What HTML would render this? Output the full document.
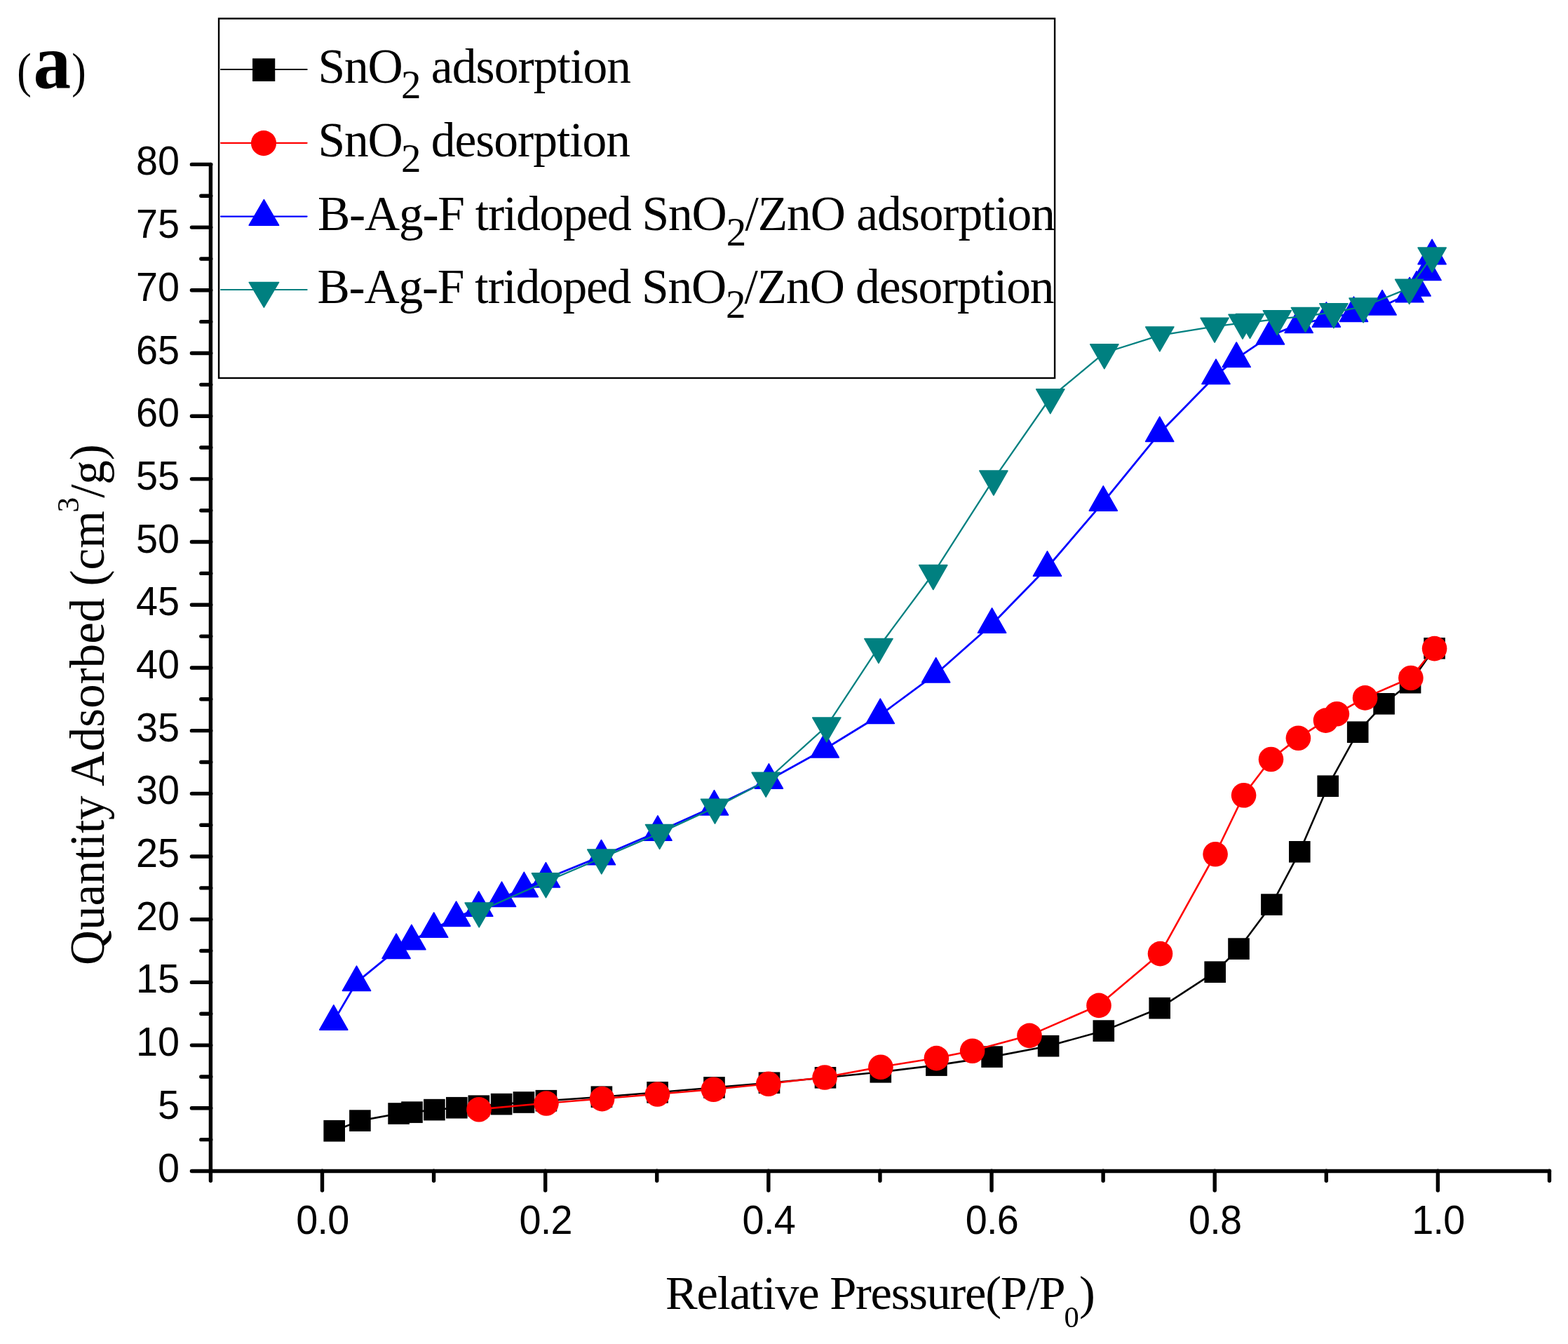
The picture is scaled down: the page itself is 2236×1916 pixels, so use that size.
<!DOCTYPE html>
<html lang="en"><head><meta charset="utf-8"><title>N2 adsorption-desorption isotherms</title>
<style>
html,body{margin:0;padding:0;background:#fff;}
body{width:2236px;height:1916px;overflow:hidden;}
svg{display:block;}
.ar{font-family:"Liberation Sans",Arial,Helvetica,sans-serif;fill:#000;}
.tm{font-family:"Liberation Serif","Times New Roman",Times,serif;fill:#000;}
.ax{stroke:#000;stroke-width:5.4;stroke-linecap:round;fill:none;}
.ln{fill:none;stroke-width:2.2;stroke-linejoin:round;stroke-linecap:round;}
</style></head><body>
<svg width="2236" height="1916" viewBox="0 0 2236 1916">
<rect width="2236" height="1916" fill="#fff"/>
<g class="ax">
<path d="M300.4 234.4V1669.5H2209.5"/>
<path d="M273.4 1669.5H300.8M286.8 1624.653H300.8M273.4 1579.806H300.8M286.8 1534.959H300.8M273.4 1490.112H300.8M286.8 1445.266H300.8M273.4 1400.419H300.8M286.8 1355.572H300.8M273.4 1310.725H300.8M286.8 1265.878H300.8M273.4 1221.031H300.8M286.8 1176.184H300.8M273.4 1131.338H300.8M286.8 1086.491H300.8M273.4 1041.644H300.8M286.8 996.797H300.8M273.4 951.95H300.8M286.8 907.103H300.8M273.4 862.256H300.8M286.8 817.409H300.8M273.4 772.562H300.8M286.8 727.716H300.8M273.4 682.869H300.8M286.8 638.022H300.8M273.4 593.175H300.8M286.8 548.328H300.8M273.4 503.481H300.8M286.8 458.634H300.8M273.4 413.787H300.8M286.8 368.941H300.8M273.4 324.094H300.8M286.8 279.247H300.8M273.4 234.4H300.8M300.41 1669.1V1683.3M459.5 1669.1V1697.1M618.59 1669.1V1683.3M777.68 1669.1V1697.1M936.77 1669.1V1683.3M1095.86 1669.1V1697.1M1254.95 1669.1V1683.3M1414.04 1669.1V1697.1M1573.13 1669.1V1683.3M1732.22 1669.1V1697.1M1891.31 1669.1V1683.3M2050.4 1669.1V1697.1M2209.49 1669.1V1683.3"/>
</g>
<g class="ar" text-anchor="end" font-size="55.8">
<text transform="translate(256 1684.55) scale(1 1.035)">0</text>
<text transform="translate(256 1594.856) scale(1 1.035)">5</text>
<text transform="translate(256 1505.162) scale(1 1.035)">10</text>
<text transform="translate(256 1415.469) scale(1 1.035)">15</text>
<text transform="translate(256 1325.775) scale(1 1.035)">20</text>
<text transform="translate(256 1236.081) scale(1 1.035)">25</text>
<text transform="translate(256 1146.388) scale(1 1.035)">30</text>
<text transform="translate(256 1056.694) scale(1 1.035)">35</text>
<text transform="translate(256 967) scale(1 1.035)">40</text>
<text transform="translate(256 877.306) scale(1 1.035)">45</text>
<text transform="translate(256 787.612) scale(1 1.035)">50</text>
<text transform="translate(256 697.919) scale(1 1.035)">55</text>
<text transform="translate(256 608.225) scale(1 1.035)">60</text>
<text transform="translate(256 518.531) scale(1 1.035)">65</text>
<text transform="translate(256 428.837) scale(1 1.035)">70</text>
<text transform="translate(256 339.144) scale(1 1.035)">75</text>
<text transform="translate(256 249.45) scale(1 1.035)">80</text>
</g>
<g class="ar" text-anchor="middle" font-size="55.8" letter-spacing="-0.75">
<text transform="translate(459.9 1759.1) scale(1 1.035)">0.0</text>
<text transform="translate(778.08 1759.1) scale(1 1.035)">0.2</text>
<text transform="translate(1096.26 1759.1) scale(1 1.035)">0.4</text>
<text transform="translate(1414.44 1759.1) scale(1 1.035)">0.6</text>
<text transform="translate(1732.62 1759.1) scale(1 1.035)">0.8</text>
<text transform="translate(2050.8 1759.1) scale(1 1.035)">1.0</text>
</g>
<text class="tm" y="1866" font-size="68.5" letter-spacing="-1.25"><tspan x="949.1">Relative </tspan><tspan x="1183.2">Pressure(P/P</tspan><tspan x="1517.5" dy="26" font-size="42.5" letter-spacing="0">0</tspan><tspan x="1539" dy="-26">)</tspan></text>
<text class="tm" transform="translate(148.3 1374) rotate(-90)" x="-1.9" y="0" font-size="69">Quantity Adsorbed (cm<tspan x="643.6" dy="-36.5" font-size="43.3">3</tspan><tspan x="664.2" dy="36.5">/g)</tspan></text>
<g class="tm"><text transform="translate(24.3 124.2) scale(0.88 1.01)" font-size="70">(</text><text transform="translate(47.5 124.7) scale(0.984 1.015)" font-size="109" font-weight="bold">a</text><text transform="translate(102.2 124.2) scale(0.88 1.01)" font-size="70">)</text></g>
<g>
<polyline class="ln" stroke="#000" style="stroke-width:2.6" points="476.7,1612.2 513.4,1597.6 568.6,1587.5 587.5,1585.6 619.4,1582.1 651.3,1579.2 682.8,1576.7 715.1,1574.1 746.9,1571.5 778.9,1569.2 857.9,1563.7 937.6,1557.3 1018.5,1550.4 1097,1543.7 1177,1536.3 1255.8,1528.3 1335.4,1518.6 1414.6,1506.6 1495.1,1491.2 1573.8,1469.6 1653.7,1437.2 1732.7,1385.7 1766.5,1352.6 1813.4,1289.6 1853.3,1214.3 1893.7,1120.7 1936.2,1043.7 1973.6,1003.3 2011.1,973.2 2045.6,924.3"/>
<g fill="#000">
<rect x="461.4" y="1596.9" width="30.6" height="30.6"/>
<rect x="498.1" y="1582.3" width="30.6" height="30.6"/>
<rect x="553.3" y="1572.2" width="30.6" height="30.6"/>
<rect x="572.2" y="1570.3" width="30.6" height="30.6"/>
<rect x="604.1" y="1566.8" width="30.6" height="30.6"/>
<rect x="636" y="1563.9" width="30.6" height="30.6"/>
<rect x="667.5" y="1561.4" width="30.6" height="30.6"/>
<rect x="699.8" y="1558.8" width="30.6" height="30.6"/>
<rect x="731.6" y="1556.2" width="30.6" height="30.6"/>
<rect x="763.6" y="1553.9" width="30.6" height="30.6"/>
<rect x="842.6" y="1548.4" width="30.6" height="30.6"/>
<rect x="922.3" y="1542" width="30.6" height="30.6"/>
<rect x="1003.2" y="1535.1" width="30.6" height="30.6"/>
<rect x="1081.7" y="1528.4" width="30.6" height="30.6"/>
<rect x="1161.7" y="1521" width="30.6" height="30.6"/>
<rect x="1240.5" y="1513" width="30.6" height="30.6"/>
<rect x="1320.1" y="1503.3" width="30.6" height="30.6"/>
<rect x="1399.3" y="1491.3" width="30.6" height="30.6"/>
<rect x="1479.8" y="1475.9" width="30.6" height="30.6"/>
<rect x="1558.5" y="1454.3" width="30.6" height="30.6"/>
<rect x="1638.4" y="1421.9" width="30.6" height="30.6"/>
<rect x="1717.4" y="1370.4" width="30.6" height="30.6"/>
<rect x="1751.2" y="1337.3" width="30.6" height="30.6"/>
<rect x="1798.1" y="1274.3" width="30.6" height="30.6"/>
<rect x="1838" y="1199" width="30.6" height="30.6"/>
<rect x="1878.4" y="1105.4" width="30.6" height="30.6"/>
<rect x="1920.9" y="1028.4" width="30.6" height="30.6"/>
<rect x="1958.3" y="988" width="30.6" height="30.6"/>
<rect x="1995.8" y="957.9" width="30.6" height="30.6"/>
<rect x="2030.3" y="909" width="30.6" height="30.6"/>
</g></g>
<g>
<polyline class="ln" stroke="#f00" style="stroke-width:2.6" points="683,1581.4 779,1572.7 858.6,1566.3 937.5,1559.7 1017.5,1553 1095.8,1545 1176.1,1535.7 1255.9,1521 1335.4,1508.3 1386.6,1497.9 1468,1476.1 1567,1433.1 1654.5,1359.3 1733.1,1217.5 1773.6,1133.5 1812.5,1082.2 1851.4,1051.9 1890.5,1026.8 1906.4,1017.4 1946.6,994.6 2011.9,966.2 2045.6,924.3"/>
<g fill="#f00">
<circle cx="683" cy="1581.7" r="17.8"/>
<circle cx="779" cy="1573" r="17.8"/>
<circle cx="858.6" cy="1566.6" r="17.8"/>
<circle cx="937.5" cy="1560" r="17.8"/>
<circle cx="1017.5" cy="1553.3" r="17.8"/>
<circle cx="1095.8" cy="1545.3" r="17.8"/>
<circle cx="1176.1" cy="1536" r="17.8"/>
<circle cx="1255.9" cy="1521.3" r="17.8"/>
<circle cx="1335.4" cy="1508.6" r="17.8"/>
<circle cx="1386.6" cy="1498.2" r="17.8"/>
<circle cx="1468" cy="1476.4" r="17.8"/>
<circle cx="1567" cy="1433.4" r="17.8"/>
<circle cx="1654.5" cy="1359.6" r="17.8"/>
<circle cx="1733.1" cy="1217.8" r="17.8"/>
<circle cx="1773.6" cy="1133.8" r="17.8"/>
<circle cx="1812.5" cy="1082.5" r="17.8"/>
<circle cx="1851.4" cy="1052.2" r="17.8"/>
<circle cx="1890.5" cy="1027.1" r="17.8"/>
<circle cx="1906.4" cy="1017.7" r="17.8"/>
<circle cx="1946.6" cy="994.9" r="17.8"/>
<circle cx="2011.9" cy="966.5" r="17.8"/>
<circle cx="2045.6" cy="924.6" r="17.8"/>
</g></g>
<g>
<polyline class="ln" stroke="#00f" style="stroke-width:2.8" points="475.8,1455.9 508.5,1400.3 565.1,1354.2 586.9,1341.5 618.7,1324.1 650.6,1308.2 682.7,1294 715.5,1280.3 747.3,1266.4 778.4,1252.8 857.5,1220.6 937.95,1186 1018.5,1149.8 1096.4,1111.9 1176.3,1067.7 1255.3,1019.2 1334.7,960.7 1414.6,890.05 1493.5,809 1573.3,715.9 1653.7,617.3 1734,535.2 1763.2,511.1 1811.5,478.65 1852.2,462.25 1891.4,453.95 1930.5,446.25 1971.1,436.8 2010.1,418.6 2020.1,409.8 2035.1,387.35 2042.1,364.4"/>
<g fill="#00f" stroke="#00f" stroke-width="1.6" stroke-linejoin="round">
<polygon points="475.8,1432.8 495.85,1468.1 455.75,1468.1"/>
<polygon points="508.5,1377.2 528.55,1412.5 488.45,1412.5"/>
<polygon points="565.1,1331.1 585.15,1366.4 545.05,1366.4"/>
<polygon points="586.9,1318.4 606.95,1353.7 566.85,1353.7"/>
<polygon points="618.7,1301 638.75,1336.3 598.65,1336.3"/>
<polygon points="650.6,1285.1 670.65,1320.4 630.55,1320.4"/>
<polygon points="682.7,1270.9 702.75,1306.2 662.65,1306.2"/>
<polygon points="715.5,1257.2 735.55,1292.5 695.45,1292.5"/>
<polygon points="747.3,1243.3 767.35,1278.6 727.25,1278.6"/>
<polygon points="778.4,1229.7 798.45,1265 758.35,1265"/>
<polygon points="857.5,1197.5 877.55,1232.8 837.45,1232.8"/>
<polygon points="937.95,1162.9 958,1198.2 917.9,1198.2"/>
<polygon points="1018.5,1126.7 1038.55,1162 998.45,1162"/>
<polygon points="1096.4,1088.8 1116.45,1124.1 1076.35,1124.1"/>
<polygon points="1176.3,1044.6 1196.35,1079.9 1156.25,1079.9"/>
<polygon points="1255.3,996.1 1275.35,1031.4 1235.25,1031.4"/>
<polygon points="1334.7,937.6 1354.75,972.9 1314.65,972.9"/>
<polygon points="1414.6,866.95 1434.65,902.25 1394.55,902.25"/>
<polygon points="1493.5,785.9 1513.55,821.2 1473.45,821.2"/>
<polygon points="1573.3,692.8 1593.35,728.1 1553.25,728.1"/>
<polygon points="1653.7,594.2 1673.75,629.5 1633.65,629.5"/>
<polygon points="1734,512.1 1754.05,547.4 1713.95,547.4"/>
<polygon points="1763.2,488 1783.25,523.3 1743.15,523.3"/>
<polygon points="1811.5,455.55 1831.55,490.85 1791.45,490.85"/>
<polygon points="1852.2,439.15 1872.25,474.45 1832.15,474.45"/>
<polygon points="1891.4,430.85 1911.45,466.15 1871.35,466.15"/>
<polygon points="1930.5,423.15 1950.55,458.45 1910.45,458.45"/>
<polygon points="1971.1,413.7 1991.15,449 1951.05,449"/>
<polygon points="2010.1,395.5 2030.15,430.8 1990.05,430.8"/>
<polygon points="2020.1,386.7 2040.15,422 2000.05,422"/>
<polygon points="2035.1,364.25 2055.15,399.55 2015.05,399.55"/>
<polygon points="2042.1,341.3 2062.15,376.6 2022.05,376.6"/>
</g></g>
<g>
<polyline class="ln" stroke="#008080" style="stroke-width:2.3" points="683.2,1299.2 778.5,1257 857.8,1223.2 940.6,1187.7 1019.5,1151.4 1092.2,1113.5 1178.8,1035.2 1252.9,922.7 1330.8,817.8 1416.9,683.3 1497.8,567 1574.8,503 1653.8,478.2 1732.1,465.4 1772,460.4 1782.5,459.7 1821.3,454.9 1861.5,450.7 1901.9,445 1944.1,437.2 2009.7,410.6 2042.2,365.3"/>
<g fill="#008080" stroke="#008080" stroke-width="1.6" stroke-linejoin="round">
<polygon points="683.2,1321.9 703.25,1287 663.15,1287"/>
<polygon points="778.5,1279.7 798.55,1244.8 758.45,1244.8"/>
<polygon points="857.8,1245.9 877.85,1211 837.75,1211"/>
<polygon points="940.6,1210.4 960.65,1175.5 920.55,1175.5"/>
<polygon points="1019.5,1174.1 1039.55,1139.2 999.45,1139.2"/>
<polygon points="1092.2,1136.2 1112.25,1101.3 1072.15,1101.3"/>
<polygon points="1178.8,1057.9 1198.85,1023 1158.75,1023"/>
<polygon points="1252.9,945.4 1272.95,910.5 1232.85,910.5"/>
<polygon points="1330.8,840.5 1350.85,805.6 1310.75,805.6"/>
<polygon points="1416.9,706 1436.95,671.1 1396.85,671.1"/>
<polygon points="1497.8,589.7 1517.85,554.8 1477.75,554.8"/>
<polygon points="1574.8,525.7 1594.85,490.8 1554.75,490.8"/>
<polygon points="1653.8,500.9 1673.85,466 1633.75,466"/>
<polygon points="1732.1,488.1 1752.15,453.2 1712.05,453.2"/>
<polygon points="1772,483.1 1792.05,448.2 1751.95,448.2"/>
<polygon points="1782.5,482.4 1802.55,447.5 1762.45,447.5"/>
<polygon points="1821.3,477.6 1841.35,442.7 1801.25,442.7"/>
<polygon points="1861.5,473.4 1881.55,438.5 1841.45,438.5"/>
<polygon points="1901.9,467.7 1921.95,432.8 1881.85,432.8"/>
<polygon points="1944.1,459.9 1964.15,425 1924.05,425"/>
<polygon points="2009.7,433.3 2029.75,398.4 1989.65,398.4"/>
<polygon points="2042.2,388 2062.25,353.1 2022.15,353.1"/>
</g></g>
<rect x="312.05" y="26.45" width="1192.05" height="512.5" fill="#fff" stroke="#000" stroke-width="2.4"/>
<g fill="#000"><path class="ln" stroke="#000" d="M315 99H437.6"/><rect x="360.05" y="83.3" width="32.2" height="32.6"/></g>
<g fill="#f00"><path class="ln" stroke="#f00" d="M315 203.85H437.6"/><circle cx="376" cy="204.1" r="18.05"/></g>
<g fill="#00f"><path class="ln" stroke="#00f" d="M315 308.55H437.6"/><polygon stroke="#00f" stroke-width="1.6" stroke-linejoin="round" points="376.4,284.55 397.6,321.2 355.2,321.2"/></g>
<g fill="#008080"><path class="ln" stroke="#008080" d="M315 413H437.6"/><polygon stroke="#008080" stroke-width="1.6" stroke-linejoin="round" points="376.4,438.15 397.6,402.44 355.2,402.44"/></g>
<g class="tm" font-size="69.5" letter-spacing="-1.25">
<text y="118.1"><tspan x="453.5">SnO</tspan><tspan x="572" dy="21.6" font-size="57" letter-spacing="0">2 </tspan><tspan x="614.7" dy="-21.6" letter-spacing="-0.9">adsorption</tspan></text>
<text y="223.15"><tspan x="453.5">SnO</tspan><tspan x="572" dy="21.6" font-size="57" letter-spacing="0">2 </tspan><tspan x="614.7" dy="-21.6" letter-spacing="-1">desorption</tspan></text>
<text y="328.15"><tspan x="453">B-Ag-F tridoped SnO</tspan><tspan x="1035.7" dy="21.6" font-size="57" letter-spacing="0">2</tspan><tspan x="1062.5" dy="-21.6" letter-spacing="-1.07">/ZnO adsorption</tspan></text>
<text y="431.7"><tspan x="452.5">B-Ag-F tridoped SnO</tspan><tspan x="1035" dy="21.6" font-size="57" letter-spacing="0">2</tspan><tspan x="1061.5" dy="-21.6" letter-spacing="-1.1">/ZnO desorption</tspan></text>
</g>
</svg>
</body></html>
